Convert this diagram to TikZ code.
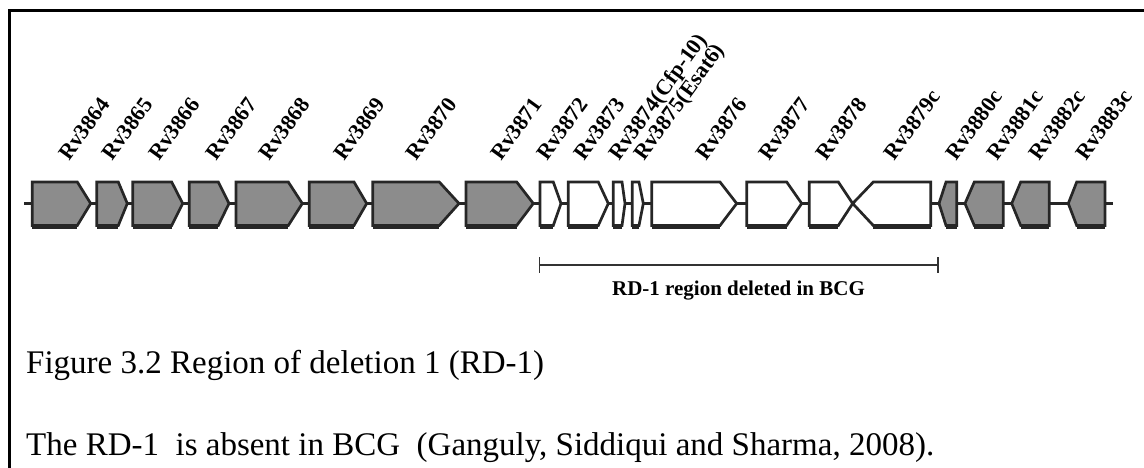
\documentclass[tikz,border=0pt]{standalone}
\usepackage{fontspec}
\setmainfont{Liberation Serif}
\newfontfamily\lblfont{Liberation Serif}
\definecolor{genegray}{HTML}{8C8C8C}
\definecolor{linedark}{HTML}{262626}
\definecolor{bardark}{HTML}{333333}
% gene geometry (top, bottom, middle of the arrows)
\def\gtop{182}
\def\gbot{225.5}
\def\gmid{203.5}
% forward gene: left, shoulder, tip, fill
\newcommand\fgene[4]{%
  \draw[genebox,fill=#4] (#1,\gtop) -- (#2,\gtop) -- (#3,\gmid) -- (#2,\gbot) -- (#1,\gbot) -- cycle;
  \draw[genebox] (#1,\gbot+1.8) -- (#2,\gbot+1.8);}
% reverse gene: tip, shoulder, right, fill
\newcommand\rgene[4]{%
  \draw[genebox,fill=#4] (#3,\gtop) -- (#2,\gtop) -- (#1,\gmid) -- (#2,\gbot) -- (#3,\gbot) -- cycle;
  \draw[genebox] (#2,\gbot+1.8) -- (#3,\gbot+1.8);}
\begin{document}
\begin{tikzpicture}[x=1pt,y=-1pt,
  genebox/.style={draw=linedark,line width=2.7pt,line join=miter},
  backbone/.style={draw=linedark,line width=2.7pt},
  genelabel/.style={anchor=base west,inner sep=0pt,rotate=54,
    font=\lblfont\bfseries\fontsize{22}{26}\selectfont},
  rdbar/.style={draw=bardark,line width=1.8pt},
  framerule/.style={draw=black,line width=2.3pt},
  captext/.style={anchor=base west,inner sep=0pt,
    font=\fontsize{33}{38}\selectfont}]
\useasboundingbox (0,0) rectangle (1144,468);

% cell border (left and top)
\coordinate (frB) at (9.5,468);
\coordinate (frTL) at (9.5,10.5);
\coordinate (frR) at (1144,10.5);
\draw[framerule] (frB) -- (frTL) -- (frR);

% chromosome backbone
\coordinate (bbL) at (24,\gmid);
\coordinate (bbR) at (1112.7,\gmid);
\draw[backbone] (bbL) -- (bbR);

% genes upstream of RD-1
\fgene{32.3}{77.3}{90.7}{genegray}
\fgene{96.7}{118.3}{127.3}{genegray}
\fgene{132.7}{171.7}{182.7}{genegray}
\fgene{189.3}{218.3}{229}{genegray}
\fgene{236}{288.3}{302.3}{genegray}
\fgene{309.3}{354}{366.7}{genegray}
\fgene{372.7}{439.3}{459}{genegray}
\fgene{466}{516.7}{533.3}{genegray}
% genes inside RD-1
\fgene{540}{553.3}{561}{white}
\fgene{568.3}{598.3}{608.3}{white}
\fgene{613.3}{622}{625}{white}
\fgene{632.3}{639}{643.3}{white}
\fgene{651.7}{720}{736.7}{white}
\fgene{746.7}{786.7}{801.7}{white}
\fgene{809.3}{838.3}{852.7}{white}
\rgene{852.7}{873.3}{930.7}{white}
% genes downstream of RD-1
\rgene{939}{946}{956.7}{genegray}
\rgene{965}{974.3}{1003.3}{genegray}
\rgene{1011.7}{1020.7}{1049.3}{genegray}
\rgene{1068.3}{1076.7}{1105}{genegray}

% gene names
\node[genelabel] (l3864) at (69,162) {Rv3864};
\node[genelabel] (l3865) at (112,162) {Rv3865};
\node[genelabel] (l3866) at (159,162) {Rv3866};
\node[genelabel] (l3867) at (216,162) {Rv3867};
\node[genelabel] (l3868) at (269,162) {Rv3868};
\node[genelabel] (l3869) at (344,162) {Rv3869};
\node[genelabel] (l3870) at (416,162) {Rv3870};
\node[genelabel] (l3871) at (501,162) {Rv3871};
\node[genelabel] (l3872) at (547,162) {Rv3872};
\node[genelabel] (l3873) at (584,162) {Rv3873};
\node[genelabel] (l3874) at (619,162) {Rv3874(Cfp-10)};
\node[genelabel] (l3875) at (644,162) {Rv3875(Esat6)};
\node[genelabel] (l3876) at (706,162) {Rv3876};
\node[genelabel] (l3877) at (769,162) {Rv3877};
\node[genelabel] (l3878) at (826,162) {Rv3878};
\node[genelabel] (l3879) at (894,162) {Rv3879c};
\node[genelabel] (l3880) at (956,162) {Rv3880c};
\node[genelabel] (l3881) at (997,162) {Rv3881c};
\node[genelabel] (l3882) at (1039,162) {Rv3882c};
\node[genelabel] (l3883) at (1086,162) {Rv3883c};

% extent of the RD-1 deletion
\coordinate (rdL) at (539.5,265);
\coordinate (rdR) at (938,265);
\draw[rdbar] (rdL) -- (rdR);
\draw[rdbar] (rdL) ++(0,-8) -- ++(0,16);
\draw[rdbar] (rdR) ++(0,-8) -- ++(0,16);
\node[anchor=base,inner sep=0pt,font=\lblfont\bfseries\fontsize{21}{25}\selectfont]
  (rdtext) at (738.5,295) {RD-1 region deleted in BCG};

% caption
\node[captext] (cap1) at (26,373) {Figure 3.2 Region of deletion 1 (RD-1)};
\node[captext] (cap2) at (26,455) {The RD-1\ \ is absent in BCG\ \ (Ganguly, Siddiqui and Sharma, 2008).};
\end{tikzpicture}
\end{document}
